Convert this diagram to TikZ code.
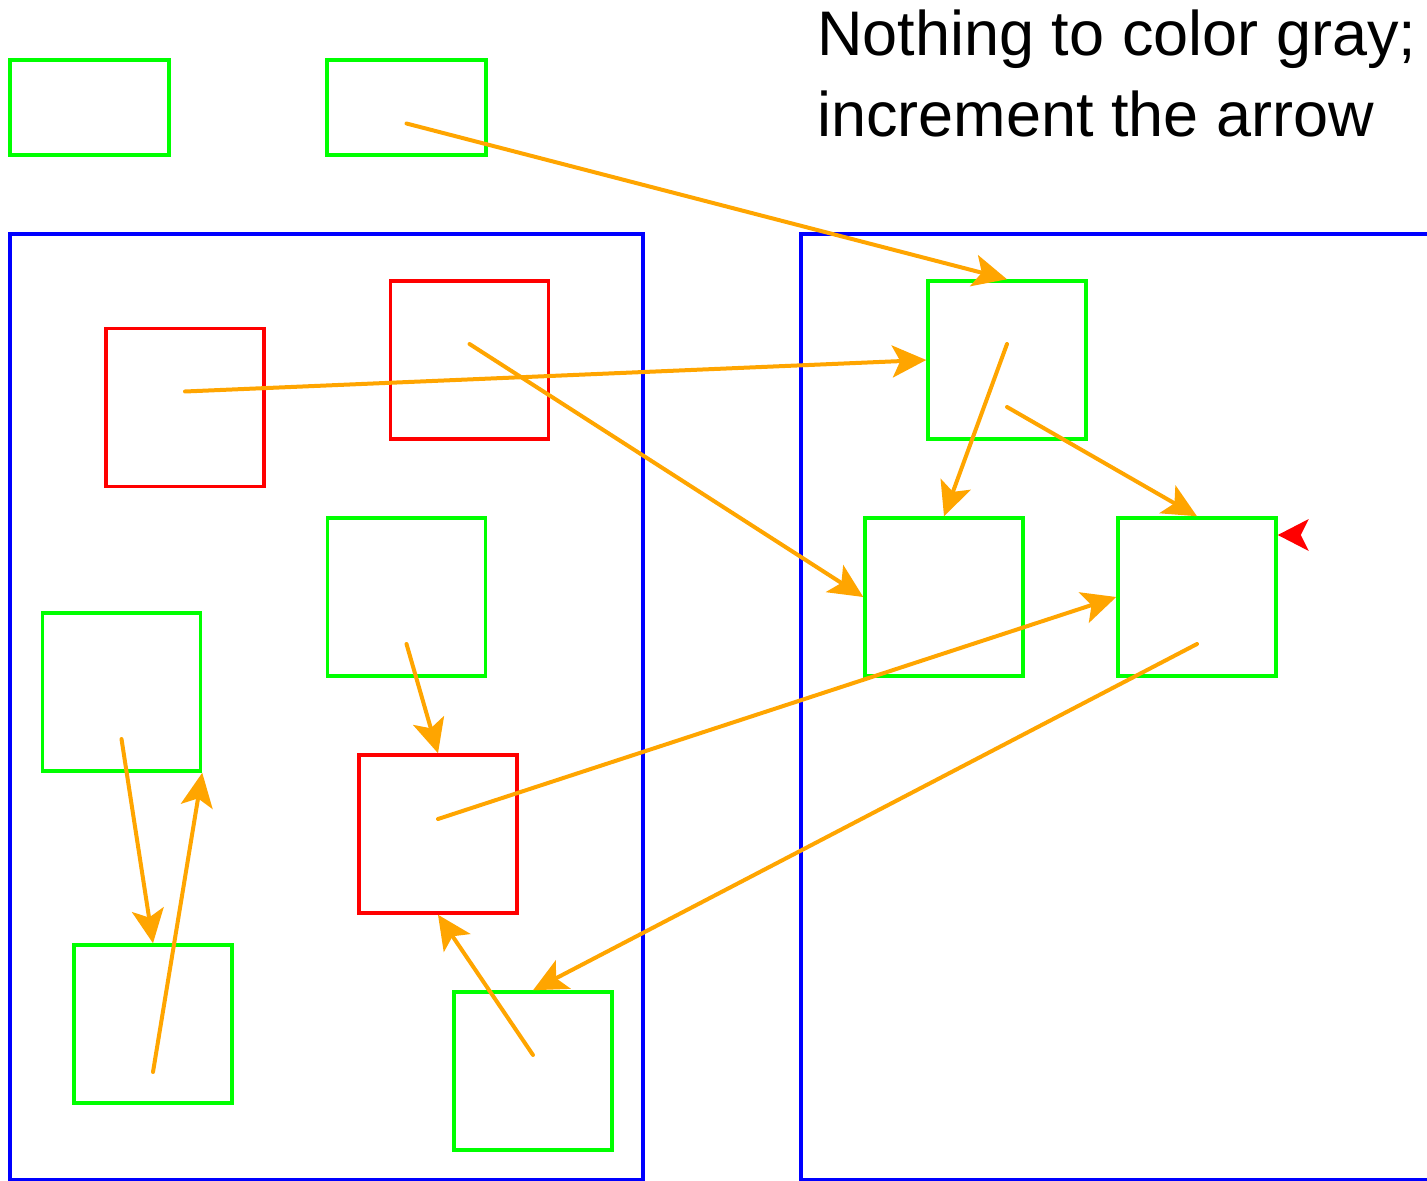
\documentclass[tikz,border=0pt]{standalone}
\usepackage{fontspec}
\setmainfont{Liberation Sans}
\usepackage{tikz}
\usetikzlibrary{arrows.meta,calc}
\definecolor{ptrorange}{RGB}{255,165,0}

\begin{document}
\begin{tikzpicture}[x=0.5pt, y=-0.5pt]
    \tikzstyle{cell}=[draw,line width=1.75pt,minimum width=79pt,minimum height=79pt,inner sep=0pt]
    \tikzstyle{live}=[cell,green]
    \tikzstyle{dead}=[cell,red]
    \tikzstyle{wide}=[live,minimum width=79.5pt,minimum height=47.5pt]
    \tikzstyle{ptr}=[draw=ptrorange,line width=2pt,line cap=round,-{Stealth[length=17pt,width=16pt,inset=4pt]}]
    \tikzstyle{region}=[draw=blue,line width=1.75pt]

    \useasboundingbox (0,0) rectangle (1427,1181);

    % regions
    \draw[region] (10,234) rectangle (643,1180);
    \draw[region] (1427,234) -- (801,234) -- (801,1180) -- (1427,1180);

    % roots
    \node[wide] (root1) at (89.5,107.5) {};
    \node[wide] (root2) at (406.5,107.5) {};

    % from space
    \node[dead] (redA) at (185,407.5) {};
    \node[dead] (redB) at (469.5,360) {};
    \node[live] (grnC) at (406.5,597) {};
    \node[live] (grnD) at (121.5,692) {};
    \node[dead] (redE) at (438,834) {};
    \node[live] (grnF) at (153,1024) {};
    \node[live] (grnG) at (533,1071) {};

    % to space
    \node[live] (grnH) at (1007,360) {};
    \node[live] (grnI) at (944,597) {};
    \node[live] (grnJ) at (1197,597) {};

    \draw[ptr] ($(root2)+(0,16)$) -- (grnH.north);
    \draw[ptr] ($(redA)+(0,-16)$) -- (grnH.west);
    \draw[ptr] ($(grnH)+(0,-16)$) -- (grnI.north);
    \draw[ptr] ($(grnH)+(0,47)$) -- (grnJ.north);
    \draw[ptr] ($(redB)+(0,-16)$) -- (grnI.west);
    \draw[ptr] ($(grnJ)+(0,47)$) -- (grnG.north);
    \draw[ptr] ($(redE)+(0,-15)$) -- (grnJ.west);
    \draw[ptr] ($(grnC)+(0,47)$) -- (redE.north);
    \draw[ptr] ($(grnD)+(0,47)$) -- (grnF.north);
    \draw[ptr] ($(grnF)+(0,48)$) -- (grnD.south east);
    \draw[ptr] ($(grnG)+(0,-16)$) -- (redE.south);

    % scan pointer
    \coordinate (scan) at (grnJ.north east |- 0,535);
    \fill[red] (scan) -- ++(31,-16) -- ++(-8,16) -- ++(8,16) -- cycle;

    \node[anchor=base west,inner sep=0pt,align=left,font=\fontsize{31.5}{40.5}\selectfont] (caption) at (817,137)
        {Nothing to color gray;\\increment the arrow};
\end{tikzpicture}
\end{document}
